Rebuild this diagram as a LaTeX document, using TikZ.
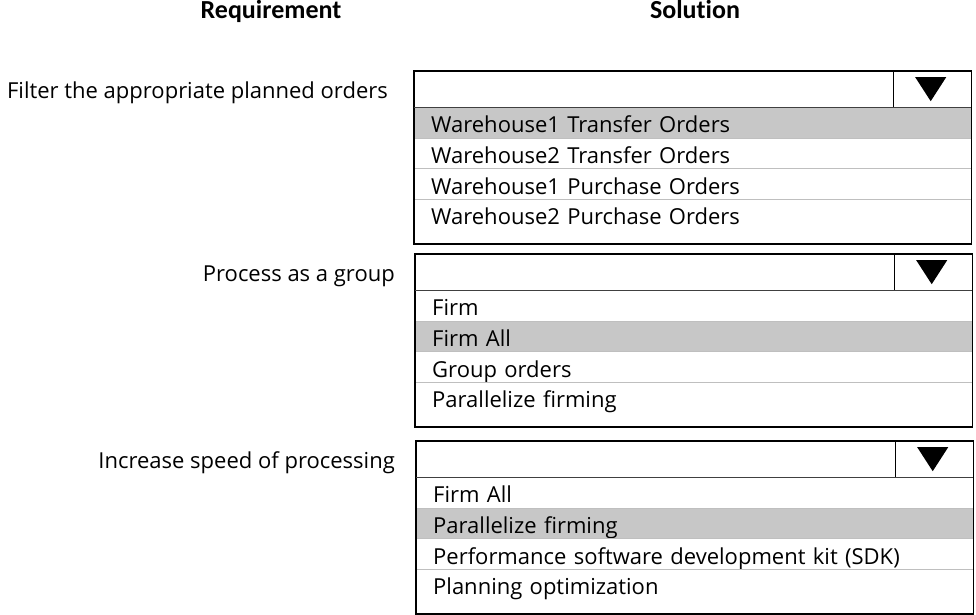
\documentclass[tikz,border=0pt]{standalone}
\usepackage{fontspec}
\setmainfont{Open Sans}
\newfontfamily\headfont[Ligatures={NoCommon}]{Carlito}
\usetikzlibrary{positioning}

\begin{document}
\begin{tikzpicture}[x=1pt, y=-1pt, node distance=0pt,
  head/.style = {font=\headfont\bfseries\fontsize{26}{30}\selectfont, text height=17pt, text depth=5pt},
  req/.style  = {font=\fontsize{22}{26}\selectfont, inner sep=0pt, text height=18pt, text depth=0pt},
  hdr/.style  = {anchor=north west, minimum width=557pt, minimum height=36pt, inner sep=0pt},
  cell/.style = {anchor=north east, minimum width=78pt, minimum height=36pt, inner sep=0pt},
  row/.style  = {minimum height=30.3pt, text width=523pt, align=left, inner xsep=17pt,
                 inner ysep=0pt, text height=22.7pt, text depth=3pt, font=\fontsize{22}{26}\selectfont},
  pick/.style = {row, fill=black!22},
  frame/.style = {draw, line width=1.6pt},
  sep/.style  = {draw=black!25, line width=0.8pt},
  tri/.style  = {fill=black}]
\useasboundingbox (0,0) rectangle (976,614);

\node[head] (req) at (271,12) {Requirement};
\node[head] (sol) at (695,12) {Solution};

% first list
\node[hdr]  (h1) at (414,71) {};
\node[cell] (a1) at (h1.north east) {};
\node[pick, below right=0pt of h1.south west] (r11) {Warehouse1 Transfer Orders};
\node[row, below=of r11] (r12) {Warehouse2 Transfer Orders};
\node[row, below=of r12] (r13) {Warehouse1 Purchase Orders};
\node[row, below=of r13] (r14) {Warehouse2 Purchase Orders};
\coordinate (b1) at ([yshift=-14pt]r14.south east);
\node[req, left=26pt of h1] (q1) {Filter the appropriate planned orders};

% second list
\node[hdr]  (h2) at (415,254) {};
\node[cell] (a2) at (h2.north east) {};
\node[row, below right=0pt of h2.south west] (r21) {Firm};
\node[pick, below=of r21] (r22) {Firm All};
\node[row, below=of r22] (r23) {Group orders};
\node[row, below=of r23] (r24) {Parallelize firming};
\coordinate (b2) at ([yshift=-14pt]r24.south east);
\node[req, left=20pt of h2] (q2) {Process as a group};

% third list
\node[hdr]  (h3) at (416,441) {};
\node[cell] (a3) at (h3.north east) {};
\node[row, below right=0pt of h3.south west] (r31) {Firm All};
\node[pick, below=of r31] (r32) {Parallelize firming};
\node[row, below=of r32] (r33) {Performance software development kit (SDK)};
\node[row, below=of r33] (r34) {Planning optimization};
\coordinate (b3) at ([yshift=-14pt]r34.south east);
\node[req, left=21pt of h3] (q3) {Increase speed of processing};

\draw[sep] (r11.south west) -- (r11.south east);
\draw[sep] (r12.south west) -- (r12.south east);
\draw[sep] (r13.south west) -- (r13.south east);
\draw[sep] (r21.south west) -- (r21.south east);
\draw[sep] (r22.south west) -- (r22.south east);
\draw[sep] (r23.south west) -- (r23.south east);
\draw[sep] (r31.south west) -- (r31.south east);
\draw[sep] (r32.south west) -- (r32.south east);
\draw[sep] (r33.south west) -- (r33.south east);

\draw[frame] (h1.north west) rectangle (b1);
\draw[frame] (h2.north west) rectangle (b2);
\draw[frame] (h3.north west) rectangle (b3);
\draw[frame, draw=black!75] (h1.south west) -- (h1.south east);
\draw[frame, draw=black!75] (h2.south west) -- (h2.south east);
\draw[frame, draw=black!75] (h3.south west) -- (h3.south east);
\draw[frame, line width=1pt] (a1.north west) -- (a1.south west);
\draw[frame, line width=1pt] (a2.north west) -- (a2.south west);
\draw[frame, line width=1pt] (a3.north west) -- (a3.south west);

\fill[tri] ([shift={(-17,-12)}]a1.center) -- ([shift={(14,-12)}]a1.center) -- ([shift={(-1.5,12)}]a1.center) -- cycle;
\fill[tri] ([shift={(-17,-12)}]a2.center) -- ([shift={(14,-12)}]a2.center) -- ([shift={(-1.5,12)}]a2.center) -- cycle;
\fill[tri] ([shift={(-17,-12)}]a3.center) -- ([shift={(14,-12)}]a3.center) -- ([shift={(-1.5,12)}]a3.center) -- cycle;
\end{tikzpicture}
\end{document}
